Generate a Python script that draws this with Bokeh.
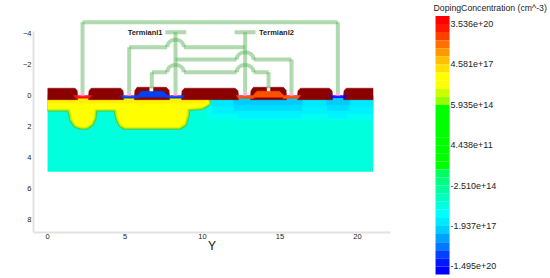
from bokeh.plotting import figure
from bokeh.models import Range1d, FixedTicker, Label, LinearAxis
from bokeh.core.properties import value
from bokeh.embed import file_html
from bokeh.resources import INLINE

FONT = "Liberation Sans"

x_ticks = [0, 5, 10, 15, 20]
y_ticks = [-4, -2, 0, 2, 4, 6, 8]

# colour scale, top to bottom
bar_colors = ["#ff0000", "#ff1800", "#ff4000", "#ff7000", "#ff9800", "#ffc000", "#ffe000", "#ffff00",
              "#ffff00", "#ccff00", "#99ff00", "#00ff00", "#00ff00", "#00ff00", "#00ff00", "#00ff00",
              "#00ff00", "#00ff00", "#00ff00", "#00ff60", "#00ff80", "#00ffa0", "#00ffc0", "#00ffe0",
              "#00ffff", "#00eaff", "#00ccff", "#00a0ff", "#0078ff", "#0040ff", "#0018ff", "#0000ff"]
bar_ticks = [31, 26, 21, 16, 11, 6, 1]
bar_labels = ["3.536e+20", "4.581e+17", "5.935e+14", "4.438e+11", "-2.510e+14", "-1.937e+17", "-1.495e+20"]

# doping regions, device coordinates (Y um, X um), drawn in this order
substrate_x = [0.02, 21.0, 21.0, 0.02]
substrate_y = [0.0, 0.0, 4.9, 4.9]
n_wide_x = [10.30, 21.0, 21.0, 10.30]
n_wide_y = [0.0, 0.0, 1.61, 1.61]
n_mid_x = [10.62, 21.0, 21.0, 10.62]
n_mid_y = [0.0, 0.0, 1.18, 1.18]
n_top_x = [10.62, 21.0, 21.0, 10.62]
n_top_y = [0.0, 0.0, 0.69, 0.69]
n_deep1_x = [12.24, 16.32, 16.32, 12.24]
n_deep1_y = [0.0, 0.0, 1.46, 1.46]
n_deep2_x = [18.15, 19.33, 19.33, 18.15]
n_deep2_y = [0.0, 0.0, 1.46, 1.46]
n_pocket1_x = [12.02, 16.43, 16.43, 12.02]
n_pocket1_y = [0.0, 0.0, 0.97, 0.97]
n_pocket2_x = [18.04, 19.44, 19.44, 18.04]
n_pocket2_y = [0.0, 0.0, 0.97, 0.97]
n_core1_x = [12.02, 16.43, 16.43, 12.02]
n_core1_y = [0.0, 0.0, 0.60, 0.60]
n_core2_x = [18.0, 19.5, 19.5, 18.0]
n_core2_y = [0.0, 0.0, 0.60, 0.60]

p_edge_x = [0.02, 1.27, 1.38, 1.42, 1.70, 2.13, 2.56, 2.95, 3.14, 3.20, 4.28, 4.39, 4.60, 4.92, 8.58, 8.97, 9.16, 9.18, 9.98, 10.30, 10.56, 10.41, 0.02]
p_edge_y = [1.01, 1.01, 1.29, 1.61, 2.04, 2.19, 2.19, 1.94, 1.51, 1.01, 1.01, 1.51, 1.98, 2.19, 2.19, 1.94, 1.29, 0.97, 0.92, 0.75, 0.54, 0.0, 0.0]
p_lime_x = [0.02, 1.34, 1.45, 1.49, 1.76, 2.16, 2.53, 2.89, 3.07, 3.13, 4.35, 4.46, 4.66, 4.96, 8.54, 8.91, 9.09, 9.11, 9.95, 10.25, 10.49, 10.35, 0.02]
p_lime_y = [0.95, 0.95, 1.27, 1.57, 1.98, 2.12, 2.12, 1.88, 1.49, 0.95, 0.95, 1.48, 1.93, 2.12, 2.12, 1.88, 1.27, 0.91, 0.86, 0.70, 0.53, 0.0, 0.0]
p_core_x = [0.02, 1.44, 1.55, 1.60, 1.84, 2.20, 2.48, 2.81, 2.98, 3.03, 4.45, 4.56, 4.75, 5.02, 8.48, 8.82, 8.98, 9.00, 9.90, 10.18, 10.40, 10.28, 0.02]
p_core_y = [0.87, 0.87, 1.22, 1.50, 1.90, 2.03, 2.03, 1.80, 1.45, 0.87, 0.87, 1.43, 1.85, 2.03, 2.03, 1.80, 1.22, 0.83, 0.78, 0.63, 0.50, 0.0, 0.0]
p_top_x = [0.02, 10.2, 10.2, 0.02]
p_top_y = [0.0, 0.0, 0.50, 0.50]

# oxide pieces between the contact windows
ox1_x = [0.02, 1.78, 1.92, 1.94, 1.94, 0.02]
ox1_y = [-0.47, -0.47, -0.30, 0.0, 0.27, 0.27]
ox2_x = [2.65, 2.68, 2.82, 4.72, 4.88, 4.90, 4.90, 2.65]
ox2_y = [0.0, -0.30, -0.47, -0.47, -0.30, 0.0, 0.27, 0.27]
ox3_x = [5.61, 5.64, 5.78, 7.66, 7.84, 7.87, 7.87, 5.61]
ox3_y = [0.0, -0.32, -0.53, -0.53, -0.34, 0.0, 0.27, 0.27]
ox4_x = [8.65, 8.68, 8.84, 12.1, 12.29, 12.32, 12.32, 8.65]
ox4_y = [0.0, -0.30, -0.47, -0.47, -0.30, 0.0, 0.27, 0.27]
ox5_x = [13.10, 13.13, 13.28, 15.22, 15.39, 15.42, 15.42, 13.10]
ox5_y = [0.0, -0.32, -0.53, -0.53, -0.34, 0.0, 0.27, 0.27]
ox6_x = [16.13, 16.16, 16.32, 18.18, 18.36, 18.39, 18.39, 16.13]
ox6_y = [0.0, -0.30, -0.47, -0.47, -0.30, 0.0, 0.27, 0.27]
ox7_x = [19.10, 19.13, 19.28, 21.0, 21.0, 19.10]
ox7_y = [0.0, -0.30, -0.47, -0.47, 0.27, 0.27]

# gates and contact implants
gate1_x = [5.84, 6.05, 7.45, 7.72, 7.76, 5.80]
gate1_y = [-0.05, -0.28, -0.28, -0.05, 0.11, 0.11]
gate2_x = [13.30, 13.52, 14.95, 15.2, 15.22, 13.26]
gate2_y = [-0.05, -0.28, -0.28, -0.05, 0.11, 0.11]
imp1_x = [1.66, 2.88, 2.70, 1.84]
imp1_y = [0.0, 0.0, 0.18, 0.18]
imp2_x = [4.71, 5.83, 5.83, 4.85]
imp2_y = [0.0, 0.0, 0.17, 0.17]
imp3_x = [7.72, 8.84, 8.70, 7.72]
imp3_y = [0.0, 0.0, 0.17, 0.17]
imp4_x = [12.19, 13.31, 13.31, 12.33]
imp4_y = [0.0, 0.0, 0.20, 0.20]
imp5_x = [15.20, 16.32, 16.18, 15.20]
imp5_y = [0.0, 0.0, 0.20, 0.20]
imp6_x = [18.21, 19.34, 19.18, 18.37]
imp6_y = [0.0, 0.0, 0.14, 0.14]

# metal wiring: straight runs (Y, X pairs)
wire_x = [[2.26, 18.73], [2.26, 2.26], [18.73, 18.73],
          [5.27, 5.27], [5.27, 7.72], [8.80, 12.75],
          [8.26, 12.2], [13.3, 15.74], [15.74, 15.74],
          [6.73, 6.73], [6.73, 7.72], [8.80, 12.2], [13.3, 14.26], [14.26, 14.26],
          [8.26, 8.26], [7.60, 8.95], [12.75, 12.75], [12.07, 13.42]]
wire_y = [[-4.73, -4.73], [-4.73, -0.2], [-4.73, -0.2],
          [-3.12, -0.2], [-3.12, -3.12], [-3.12, -3.12],
          [-2.32, -2.32], [-2.32, -2.32], [-2.32, -0.2],
          [-1.5, -0.45], [-1.5, -1.5], [-1.5, -1.5], [-1.5, -1.5], [-1.5, -0.45],
          [-4.08, -0.2], [-4.08, -4.08], [-4.08, -0.2], [-4.08, -4.08]]
# wire crossings (hops)
hop_x0 = [7.72, 7.72, 12.2, 12.2]
hop_x1 = [8.80, 8.80, 13.3, 13.3]
hop_y = [-3.12, -1.5, -2.32, -1.5]
hop_top = [-3.75, -2.13, -2.95, -2.13]

term_text = ["Termianl1", "Termianl2"]
term_x = [7.42, 13.65]
term_y = [-4.08, -4.08]

contact_u0 = [1.94, 4.90, 7.87, 12.32, 15.42, 18.39]
contact_u1 = [2.65, 5.61, 8.65, 13.10, 16.13, 19.10]
contact_mid = [2.26, 5.27, 8.26, 12.75, 15.74, 18.73]
notch_u0 = [6.58, 14.15]
notch_u1 = [6.82, 14.37]

# frame spans the whole picture right of the y axis; the axes are held to the plot area
p = figure(width=550, height=278, output_backend="svg", toolbar_location=None,
           x_range=Range1d(-0.903, 32.45), y_range=Range1d(11.806, -6.129),
           min_border_left=33, min_border_right=0, min_border_top=0, min_border_bottom=0,
           outline_line_color=None)
p.grid.visible = False

for ax, ticks, bounds, standoff in ((p.xaxis[0], x_ticks, (-0.903, 22.13), 1),
                                    (p.yaxis[0], y_ticks, (-4.13, 8.839), 2)):
    ax.ticker = FixedTicker(ticks=ticks)
    ax.bounds = bounds
    ax.axis_line_color = "#e2e2e2"
    ax.axis_line_width = 2
    ax.major_tick_line_color = None
    ax.minor_tick_line_color = None
    ax.major_tick_out = 0
    ax.major_tick_in = 0
    ax.minor_tick_out = 0
    ax.minor_tick_in = 0
    ax.major_label_text_font = FONT
    ax.major_label_text_font_size = "7.5px"
    ax.major_label_text_color = "#222222"
    ax.major_label_standoff = standoff
p.xaxis[0].fixed_location = 8.839
p.xaxis[0].axis_label = "Y"
p.xaxis[0].axis_label_text_font = FONT
p.xaxis[0].axis_label_text_font_size = "12px"
p.xaxis[0].axis_label_text_font_style = "normal"
p.xaxis[0].axis_label_text_color = "#111111"
p.xaxis[0].axis_label_standoff = -3

def region(xs, ys, color):
    p.patch(xs, ys, fill_color=color, line_color=color, line_width=0.5)

region(substrate_x, substrate_y, "#00ffdc")
region(n_wide_x, n_wide_y, "#00fff0")
region(n_deep1_x, n_deep1_y, "#00f4ff")
region(n_deep2_x, n_deep2_y, "#00f4ff")
region(n_mid_x, n_mid_y, "#00f2ff")
region(n_top_x, n_top_y, "#00e8ff")
region(n_pocket1_x, n_pocket1_y, "#00deff")
region(n_pocket2_x, n_pocket2_y, "#00deff")
region(n_core1_x, n_core1_y, "#00ccff")
region(n_core2_x, n_core2_y, "#00ccff")
region(p_edge_x, p_edge_y, "#50c840")
region(p_lime_x, p_lime_y, "#c4f400")
region(p_core_x, p_core_y, "#ffff00")
region(p_top_x, p_top_y, "#fff000")

for xs, ys in ((ox1_x, ox1_y), (ox2_x, ox2_y), (ox3_x, ox3_y), (ox4_x, ox4_y),
               (ox5_x, ox5_y), (ox6_x, ox6_y), (ox7_x, ox7_y)):
    region(xs, ys, "#8b0000")

region(gate1_x, gate1_y, "#0040f0")
region(gate2_x, gate2_y, "#ff5000")
region(imp1_x, imp1_y, "#ff1010")
region(imp2_x, imp2_y, "#0040f0")
region(imp3_x, imp3_y, "#0040f0")
region(imp4_x, imp4_y, "#ff5000")
region(imp5_x, imp5_y, "#ff5000")
region(imp6_x, imp6_y, "#0000ff")

# contact details
p.quad(left=contact_u0, right=contact_u1, top=[0.0] * 6, bottom=[0.05] * 6,
       fill_color="#ff50b0", line_color=None)
p.quad(left=[u - 0.13 for u in contact_mid], right=[u + 0.13 for u in contact_mid],
       top=[-0.2] * 6, bottom=[0.0] * 6, fill_color="#ffb0d8", line_color=None)
p.quad(left=notch_u0, right=notch_u1, top=[-0.53] * 2, bottom=[-0.28] * 2,
       fill_color="#ffffff", line_color=None)

metal = dict(line_color="#55b055", line_alpha=0.47, line_width=4)
p.multi_line(wire_x, wire_y, line_cap="butt", **metal)
p.bezier(x0=hop_x0, y0=hop_y, x1=hop_x1, y1=hop_y,
         cx0=[x + 0.05 for x in hop_x0], cy0=hop_top,
         cx1=[x - 0.05 for x in hop_x1], cy1=hop_top, **metal)

p.text(x=term_x[:1], y=term_y[:1], text=term_text[:1], text_align="right", text_baseline="middle",
       text_font=value(FONT), text_font_size="7.5px", text_font_style="bold", text_color="#222222")
p.text(x=term_x[1:], y=term_y[1:], text=term_text[1:], text_align="left", text_baseline="middle",
       text_font=value(FONT), text_font_size="7.5px", text_font_style="bold", text_color="#222222")

p.add_layout(Label(x=-2.45, y=2.42, text="X", text_align="center", text_baseline="middle",
                   text_font=FONT, text_font_size="12px", text_color="#111111", angle=1.5708))

# colour scale: its own ranges, one unit per band in y and one bar width in x
n = len(bar_colors)
p.extra_x_ranges["bar_x"] = Range1d(-28.71, 8.21)
p.extra_y_ranges["bar_y"] = Range1d(-0.495, 33.91)
p.quad(left=[0] * n, right=[1] * n, top=[n - i for i in range(n)], bottom=[n - i - 1 for i in range(n)],
       fill_color=bar_colors, line_color=None, x_range_name="bar_x", y_range_name="bar_y")
ya = LinearAxis(x_range_name="bar_x", y_range_name="bar_y", fixed_location=1.0,
                ticker=FixedTicker(ticks=bar_ticks),
                major_label_overrides=dict(zip(bar_ticks, bar_labels)),
                axis_line_color=None, major_tick_line_color=None, minor_tick_line_color=None,
                major_tick_out=0, major_tick_in=0, minor_tick_out=0, minor_tick_in=0,
                major_label_text_font=FONT, major_label_text_font_size="9px",
                major_label_text_color="#222222", major_label_standoff=1)
p.add_layout(ya, "right")
p.add_layout(Label(x=-0.14, y=33.0, x_range_name="bar_x", y_range_name="bar_y",
                   text="DopingConcentration (cm^-3)", text_align="left", text_baseline="middle",
                   text_font=FONT, text_font_size="8.7px", text_color="#222222"))

open("out.html", "w").write(file_html(p, INLINE))
